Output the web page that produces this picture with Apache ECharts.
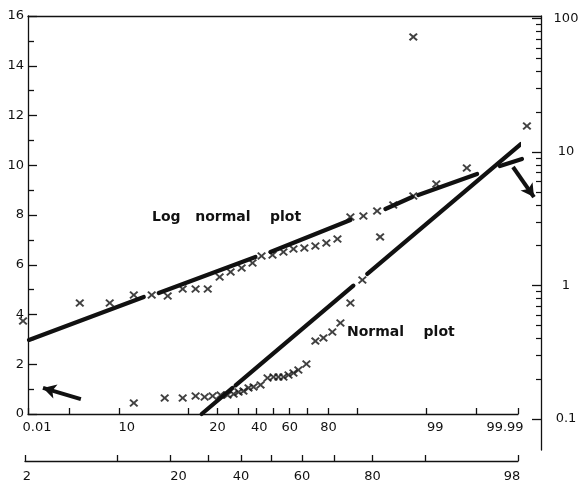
<!DOCTYPE html>
<html>
<head>
<meta charset="utf-8">
<script src="https://cdn.jsdelivr.net/npm/echarts@6/dist/echarts.min.js"></script>
<style>
  html, body { margin: 0; padding: 0; background: #fff; }
  #chart { width: 586px; height: 487px; }
</style>
</head>
<body>
<div id="chart"></div>
<script>
// ---- data -------------------------------------------------------------
// Normal plot: cumulative frequency (%) against value (left axis)
const normalPct = [1.73, 5.01, 8.52, 12.0, 14.96, 17.97, 21.3, 24.5, 27.5, 30.05,
                   32.7, 35.5, 38.4, 42.5, 46.7, 50.3, 53.3, 56.3, 59.3, 62.2,
                   65.0, 69.4, 74.0, 77.8, 81.6, 84.7, 88.0, 91.25, 94.8, 98.34];
const normalVal = [0.44, 0.64, 0.64, 0.72, 0.68, 0.72, 0.76, 0.76, 0.80, 0.88,
                   0.92, 1.05, 1.09, 1.17, 1.45, 1.49, 1.49, 1.49, 1.57, 1.65,
                   1.77, 2.01, 2.93, 3.06, 3.30, 3.66, 4.46, 5.39, 7.12, 15.16];

// Log normal plot: cumulative frequency (%) against value (right, log axis)
const logPct = [0.0074, 0.168, 0.66, 1.73, 3.28, 5.50, 8.52, 12.0, 16.1, 20.9,
                26.0, 31.7, 37.8, 43.1, 49.7, 56.3, 62.2, 68.3, 74.0, 79.1,
                83.6, 88.0, 91.5, 94.3, 96.6, 98.34, 99.34, 99.837, 99.9942];
const logVal = [0.542, 0.739, 0.739, 0.849, 0.849, 0.834, 0.941, 0.941, 0.941, 1.158,
                1.262, 1.352, 1.474, 1.663, 1.692, 1.782, 1.877, 1.909, 1.977, 2.082,
                2.230, 3.260, 3.316, 3.614, 4.009, 4.683, 5.757, 7.589, 15.66];

// Hand-drawn fitted lines, stroke by stroke: [pct, value] pairs
const normalFit = [
  [[13.94, 0.0], [26.97, 1.05]],
  [[28.5, 1.154], [88.88, 5.157]],
  [[92.39, 5.632], [99.9917, 10.86]]
];
const logFit = [
  [[0.0106, 0.391], [2.49, 0.820]],
  [[4.14, 0.879], [39.5, 1.635]],
  [[48.5, 1.782], [88.0, 3.095]],
  [[95.6, 3.741], [98.27, 4.603]],
  [[98.63, 4.762], [99.9026, 6.84]],
  [[99.9715, 7.85], [99.99213, 8.863]]
];

// Pointer arrows: [from, to] as [pct, value]
const leftArrow = [[0.177, 0.60], [0.024, 1.05]];
const rightArrow = [[99.98653, 7.72], [99.99628, 4.60]];

// Probability scale (upper) ticks and labels, in %
const probTicks = [0.01, 0.1, 1, 10, 20, 30, 40, 50, 60, 70, 80, 90, 99, 99.9, 99.99];
const probLabelPos = [0.01, 1, 20, 40, 60, 80, 99, 99.99];
const probLabelText = ['0.01', '10', '20', '40', '60', '80', '99', '99.99'];

// Lower percentage scale
const pctTicks = [2, 10, 20, 30, 40, 50, 60, 70, 80, 90, 98];
const pctLabelPos = [2, 20, 40, 60, 80, 98];
const pctLabelText = ['2', '20', '40', '60', '80', '98'];

// Logarithmic scale ticks
const logMajor = [0.1, 1, 10, 100];
const logMinor = [0.2, 0.3, 0.4, 0.5, 0.6, 0.7, 0.8, 0.9,
                  2, 3, 4, 5, 6, 7, 8, 9,
                  20, 30, 40, 50, 60, 70, 80, 90];

// ---- helpers -----------------------------------------------------------
// Inverse of the standard normal CDF (Acklam)
function probit(p) {
  const a = [-3.969683028665376e+01, 2.209460984245205e+02, -2.759285104469687e+02,
             1.383577518672690e+02, -3.066479806614716e+01, 2.506628277459239e+00];
  const b = [-5.447609879822406e+01, 1.615858368580409e+02, -1.556989798598866e+02,
             6.680131188771972e+01, -1.328068155288572e+01];
  const c = [-7.784894002430293e-03, -3.223964580411365e-01, -2.400758277161838e+00,
             -2.549732539343734e+00, 4.374664141464968e+00, 2.938163982698783e+00];
  const d = [7.784695709041462e-03, 3.224671290700398e-01, 2.445134137142996e+00,
             3.754408661907416e+00];
  const pl = 0.02425, ph = 1 - pl;
  let q, r;
  if (p < pl) {
    q = Math.sqrt(-2 * Math.log(p));
    return (((((c[0]*q+c[1])*q+c[2])*q+c[3])*q+c[4])*q+c[5]) /
           ((((d[0]*q+d[1])*q+d[2])*q+d[3])*q+1);
  }
  if (p <= ph) {
    q = p - 0.5; r = q * q;
    return (((((a[0]*r+a[1])*r+a[2])*r+a[3])*r+a[4])*r+a[5])*q /
           (((((b[0]*r+b[1])*r+b[2])*r+b[3])*r+b[4])*r+1);
  }
  q = Math.sqrt(-2 * Math.log(1 - p));
  return -(((((c[0]*q+c[1])*q+c[2])*q+c[3])*q+c[4])*q+c[5]) /
          ((((d[0]*q+d[1])*q+d[2])*q+d[3])*q+1);
}
const z = pct => probit(pct / 100);

const INK = '#111';
const TICK_FONT = { color: INK, fontFamily: 'DejaVu Sans', fontSize: 13 };
const NOTE_FONT = 'bold 14px "DejaVu Sans"';
const CROSS = 'path://M0,1.6L1.6,0L5,3.4L8.4,0L10,1.6L6.6,5L10,8.4L8.4,10L5,6.6L1.6,10L0,8.4L3.4,5Z';

// Layout of the plotting frame (px)
const FRAME_LEFT = 28, PROB_RIGHT = 518, LOG_AXIS_X = 541, CHART_W = 586;

// Label nudges (px, + = right) so the printed numbers sit as on the sheet
const probNudge = { '0.01': 9, '10': 7, '40': 3, '99': 9, '99.99': -13 };
const pctNudge = { '2': 2, '20': 8, '98': -6 };

function richFor(texts, nudge) {
  const rich = {};
  texts.forEach((t, i) => {
    const n = nudge[t] || 0;
    rich['t' + i] = Object.assign({}, TICK_FONT, {
      padding: n >= 0 ? [0, 0, 0, 2 * n] : [0, -2 * n, 0, 0]
    });
  });
  return rich;
}
function labelFormatter(posList, texts) {
  const zs = posList.map(z);
  return v => {
    for (let i = 0; i < zs.length; i++) {
      if (Math.abs(zs[i] - v) < 1e-6) return '{t' + i + '|' + texts[i] + '}';
    }
    return '';
  };
}

const zMin = z(probTicks[0]);
const zMax = z(probTicks[probTicks.length - 1]);
// The log grid runs on to the right-hand axis, with the same probability scale
const zMaxLog = zMax + (LOG_AXIS_X - PROB_RIGHT) * (zMax - zMin) / (PROB_RIGHT - FRAME_LEFT);
const zMin2 = z(pctTicks[0]);
const zMax2 = z(pctTicks[pctTicks.length - 1]);

const thickLine = (xi, yi) => seg => ({
  type: 'line',
  xAxisIndex: xi, yAxisIndex: yi,
  data: seg.map(p => [z(p[0]), p[1]]),
  showSymbol: false, symbol: 'none',
  clip: false, silent: true,
  lineStyle: { color: INK, width: 4.2, cap: 'round' }
});

const arrowMark = pair => ({
  silent: true,
  symbol: ['none', 'arrow'],
  symbolSize: [11, 13],
  label: { show: false },
  lineStyle: { color: INK, width: 4, type: 'solid' },
  emphasis: { disabled: true },
  data: [[{ coord: [z(pair[0][0]), pair[0][1]] }, { coord: [z(pair[1][0]), pair[1][1]] }]]
});

const lineStyleInk = { color: INK, width: 1.3 };

const option = {
  animation: false,
  backgroundColor: '#fff',
  grid: [
    { left: FRAME_LEFT, right: CHART_W - PROB_RIGHT, top: 16, bottom: 73 },   // main plot
    { left: FRAME_LEFT, right: CHART_W - LOG_AXIS_X, top: 16, bottom: 37 },   // log axis frame
    { left: 25, right: CHART_W - PROB_RIGHT, top: 440, bottom: 26 }           // lower % scale
  ],
  xAxis: [
    {
      gridIndex: 0, type: 'value', min: zMin, max: zMax, position: 'bottom',
      axisLine: { show: true, onZero: false, lineStyle: lineStyleInk },
      axisTick: { show: true, inside: true, length: 6, customValues: probTicks.map(z),
                  lineStyle: lineStyleInk },
      axisLabel: { show: true, margin: 7, customValues: probLabelPos.map(z),
                   formatter: labelFormatter(probLabelPos, probLabelText),
                   rich: richFor(probLabelText, probNudge) },
      splitLine: { show: false }
    },
    {
      gridIndex: 1, type: 'value', min: zMin, max: zMaxLog, position: 'top',
      axisLine: { show: true, onZero: false, lineStyle: lineStyleInk },
      axisTick: { show: false }, axisLabel: { show: false }, splitLine: { show: false }
    },
    {
      gridIndex: 2, type: 'value', min: zMin2, max: zMax2, position: 'bottom',
      axisLine: { show: true, onZero: false, lineStyle: lineStyleInk },
      axisTick: { show: true, inside: true, length: 6, customValues: pctTicks.map(z),
                  lineStyle: lineStyleInk },
      axisLabel: { show: true, margin: 9, customValues: pctLabelPos.map(z),
                   formatter: labelFormatter(pctLabelPos, pctLabelText),
                   rich: richFor(pctLabelText, pctNudge) },
      splitLine: { show: false }
    }
  ],
  yAxis: [
    {
      gridIndex: 0, type: 'value', min: 0, max: 16, interval: 2, position: 'left',
      axisLine: { show: true, onZero: false, lineStyle: lineStyleInk },
      axisTick: { show: true, inside: true, length: 9, lineStyle: lineStyleInk },
      minorTick: { show: true, splitNumber: 2, length: 6, lineStyle: lineStyleInk },
      axisLabel: Object.assign({ margin: 4 }, TICK_FONT),
      splitLine: { show: false }
    },
    {
      gridIndex: 1, type: 'log', min: 0.0586, max: 104.4, position: 'right',
      axisLine: { show: true, onZero: false, lineStyle: lineStyleInk },
      axisTick: { show: true, inside: true, length: 9, customValues: logMajor,
                  lineStyle: lineStyleInk },
      axisLabel: Object.assign({ margin: 25, align: 'center', customValues: logMajor,
                   formatter: v => String(Number(v.toPrecision(3))) }, TICK_FONT),
      splitLine: { show: false }
    },
    {
      gridIndex: 1, type: 'log', min: 0.0586, max: 104.4, position: 'right',
      axisLine: { show: false, onZero: false },
      axisTick: { show: true, inside: true, length: 5, customValues: logMinor,
                  lineStyle: { color: INK, width: 1.2 } },
      axisLabel: { show: false },
      splitLine: { show: false }
    },
    { gridIndex: 2, type: 'value', show: false }
  ],
  series: [
    {
      name: 'Normal plot', type: 'scatter', xAxisIndex: 0, yAxisIndex: 0,
      data: normalPct.map((p, i) => [z(p), normalVal[i]]),
      symbol: CROSS, symbolSize: [9, 8], clip: false, silent: true,
      itemStyle: { color: INK },
      markLine: arrowMark(leftArrow)
    },
    {
      name: 'Log normal plot', type: 'scatter', xAxisIndex: 1, yAxisIndex: 1,
      data: logPct.map((p, i) => [z(p), logVal[i]]),
      symbol: CROSS, symbolSize: [9, 8], clip: false, silent: true,
      itemStyle: { color: INK },
      markLine: arrowMark(rightArrow)
    }
  ]
    .concat(normalFit.map(thickLine(0, 0)))
    .concat(logFit.map(thickLine(1, 1))),
  graphic: [
    { type: 'text', left: 152, top: 210, silent: true,
      style: { text: 'Log   normal    plot', font: NOTE_FONT, fill: INK } },
    { type: 'text', left: 347, top: 325, silent: true,
      style: { text: 'Normal    plot', font: NOTE_FONT, fill: INK } }
  ]
};

const chart = echarts.init(document.getElementById('chart'), null, { renderer: 'canvas' });
chart.setOption(option);
</script>
</body>
</html>
